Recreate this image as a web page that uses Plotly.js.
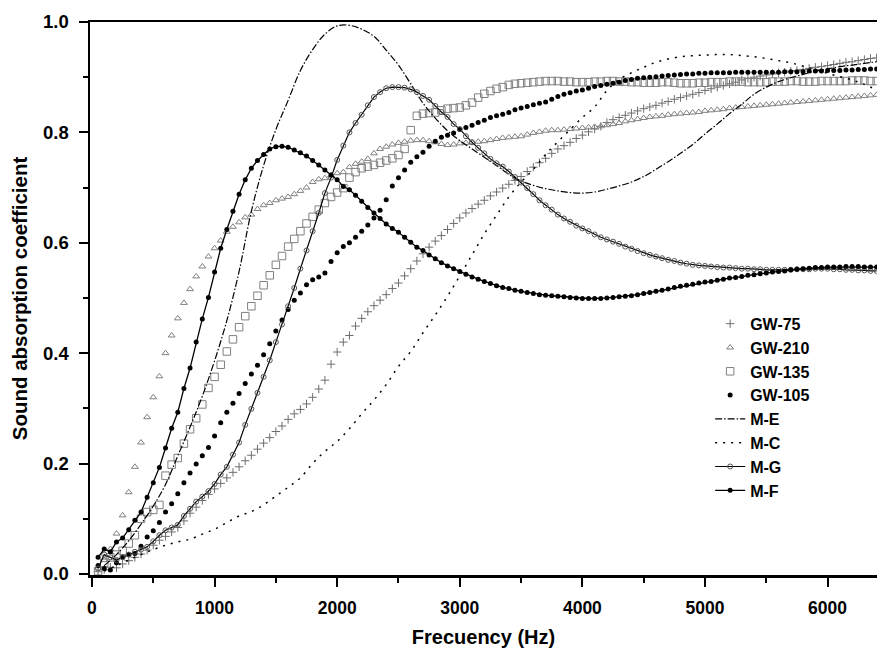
<!DOCTYPE html>
<html>
<head>
<meta charset="utf-8">
<script src="https://cdn.plot.ly/plotly-3.0.1.min.js"></script>
<style>html,body{margin:0;padding:0;background:#fff;}#chart{width:877px;height:656px;}</style>
</head>
<body>
<div id="chart"></div>
<script>
// Frequency grid of the measured / marker series (Hz)
const freq = [
  50,100,150,200,250,300,350,400,450,500,
  550,600,650,700,750,800,850,900,950,1000,
  1050,1100,1150,1200,1250,1300,1350,1400,1450,1500,
  1550,1600,1650,1700,1750,1800,1850,1900,1950,2000,
  2050,2100,2150,2200,2250,2300,2350,2400,2450,2500,
  2550,2600,2650,2700,2750,2800,2850,2900,2950,3000,
  3050,3100,3150,3200,3250,3300,3350,3400,3450,3500,
  3550,3600,3650,3700,3750,3800,3850,3900,3950,4000,
  4050,4100,4150,4200,4250,4300,4350,4400,4450,4500,
  4550,4600,4650,4700,4750,4800,4850,4900,4950,5000,
  5050,5100,5150,5200,5250,5300,5350,5400,5450,5500,
  5550,5600,5650,5700,5750,5800,5850,5900,5950,6000,
  6050,6100,6150,6200,6250,6300,6350,6400
];
// Frequency grid of the pure model lines (Hz)
const freqModel = [
  100,200,300,400,500,600,700,800,900,1000,
  1100,1200,1300,1400,1500,1600,1700,1800,1900,2000,
  2100,2200,2300,2400,2500,2600,2700,2800,2900,3000,
  3100,3200,3300,3400,3500,3600,3700,3800,3900,4000,
  4100,4200,4300,4400,4500,4600,4700,4800,4900,5000,
  5100,5200,5300,5400,5500,5600,5700,5800,5900,6000,
  6100,6200,6300,6400
];

const gw75 = [
  0.004,0.008,0.012,0.011,0.018,0.024,0.030,0.036,0.043,0.052,
  0.061,0.068,0.076,0.084,0.096,0.110,0.121,0.133,0.144,0.154,
  0.164,0.174,0.184,0.194,0.205,0.215,0.226,0.237,0.247,0.258,
  0.268,0.280,0.290,0.298,0.308,0.320,0.335,0.351,0.380,0.402,
  0.420,0.432,0.449,0.463,0.475,0.486,0.496,0.506,0.517,0.527,
  0.540,0.553,0.567,0.580,0.592,0.603,0.613,0.624,0.635,0.645,
  0.654,0.662,0.670,0.677,0.685,0.692,0.699,0.706,0.713,0.720,
  0.729,0.737,0.745,0.753,0.762,0.770,0.776,0.782,0.789,0.795,
  0.801,0.806,0.811,0.818,0.823,0.827,0.831,0.835,0.839,0.843,
  0.846,0.849,0.853,0.856,0.860,0.863,0.866,0.869,0.872,0.876,
  0.879,0.882,0.885,0.888,0.891,0.895,0.898,0.900,0.902,0.904,
  0.906,0.908,0.909,0.911,0.912,0.914,0.916,0.918,0.919,0.921,
  0.923,0.925,0.927,0.928,0.930,0.932,0.934,0.935
];
const gw210 = [
  0.010,0.025,0.045,0.073,0.106,0.148,0.194,0.238,0.284,0.320,
  0.358,0.400,0.432,0.463,0.491,0.516,0.539,0.557,0.575,0.590,
  0.604,0.620,0.629,0.637,0.646,0.651,0.661,0.668,0.672,0.677,
  0.680,0.683,0.688,0.694,0.700,0.710,0.715,0.717,0.722,0.726,
  0.728,0.737,0.743,0.747,0.752,0.762,0.770,0.774,0.778,0.781,
  0.783,0.785,0.786,0.786,0.784,0.782,0.779,0.777,0.778,0.780,
  0.781,0.782,0.783,0.784,0.786,0.788,0.790,0.791,0.792,0.793,
  0.796,0.799,0.801,0.803,0.804,0.804,0.805,0.806,0.807,0.808,
  0.809,0.810,0.811,0.813,0.815,0.817,0.820,0.822,0.824,0.826,
  0.828,0.829,0.830,0.832,0.833,0.834,0.835,0.836,0.837,0.839,
  0.840,0.841,0.842,0.844,0.845,0.846,0.847,0.848,0.849,0.850,
  0.851,0.852,0.853,0.854,0.855,0.856,0.857,0.858,0.859,0.860,
  0.861,0.862,0.863,0.864,0.865,0.866,0.867,0.868
];
const gw135 = [
  0.005,0.020,0.030,0.035,0.042,0.055,0.070,0.100,0.112,0.116,
  0.125,0.178,0.198,0.210,0.236,0.262,0.282,0.307,0.337,0.357,
  0.379,0.403,0.425,0.447,0.467,0.485,0.504,0.523,0.541,0.560,
  0.576,0.593,0.607,0.621,0.635,0.647,0.660,0.672,0.683,0.691,
  0.699,0.718,0.728,0.735,0.738,0.741,0.745,0.749,0.753,0.759,
  0.770,0.804,0.830,0.834,0.835,0.836,0.840,0.843,0.844,0.845,
  0.849,0.854,0.863,0.870,0.875,0.879,0.882,0.886,0.888,0.889,
  0.890,0.891,0.892,0.893,0.893,0.893,0.892,0.892,0.891,0.891,
  0.891,0.892,0.892,0.893,0.893,0.892,0.892,0.891,0.891,0.890,
  0.890,0.890,0.891,0.891,0.890,0.889,0.889,0.889,0.890,0.890,
  0.891,0.891,0.891,0.892,0.892,0.892,0.891,0.891,0.891,0.891,
  0.892,0.892,0.892,0.893,0.893,0.892,0.892,0.892,0.893,0.893,
  0.893,0.893,0.893,0.894,0.894,0.894,0.893,0.893
];
const gw105 = [
  0.015,0.010,0.007,0.020,0.030,0.035,0.037,0.050,0.067,0.078,
  0.093,0.112,0.127,0.145,0.165,0.183,0.199,0.214,0.229,0.250,
  0.274,0.293,0.309,0.327,0.345,0.362,0.378,0.397,0.417,0.440,
  0.460,0.479,0.496,0.509,0.524,0.533,0.538,0.545,0.566,0.582,
  0.593,0.600,0.610,0.621,0.632,0.645,0.659,0.678,0.703,0.718,
  0.732,0.746,0.756,0.764,0.775,0.784,0.791,0.795,0.799,0.805,
  0.809,0.813,0.818,0.822,0.827,0.830,0.833,0.836,0.841,0.844,
  0.847,0.850,0.853,0.855,0.860,0.865,0.869,0.872,0.875,0.877,
  0.880,0.883,0.885,0.887,0.889,0.891,0.894,0.896,0.898,0.899,
  0.900,0.901,0.902,0.903,0.904,0.905,0.906,0.906,0.907,0.907,
  0.908,0.908,0.908,0.908,0.909,0.909,0.909,0.909,0.909,0.909,
  0.909,0.909,0.910,0.910,0.910,0.910,0.911,0.911,0.911,0.912,
  0.912,0.912,0.913,0.913,0.914,0.914,0.915,0.915
];
const mG = [
  0.010,0.035,0.030,0.025,0.030,0.035,0.040,0.044,0.049,0.059,
  0.070,0.079,0.084,0.089,0.105,0.118,0.131,0.140,0.150,0.163,
  0.180,0.194,0.216,0.238,0.270,0.299,0.328,0.357,0.387,0.420,
  0.452,0.485,0.518,0.553,0.586,0.621,0.654,0.690,0.718,0.750,
  0.776,0.800,0.817,0.832,0.849,0.864,0.873,0.880,0.882,0.882,
  0.881,0.878,0.873,0.866,0.859,0.848,0.837,0.828,0.815,0.806,
  0.793,0.782,0.772,0.762,0.752,0.744,0.738,0.729,0.719,0.709,
  0.699,0.688,0.677,0.668,0.660,0.651,0.644,0.638,0.631,0.626,
  0.621,0.615,0.610,0.606,0.602,0.598,0.593,0.589,0.585,0.581,
  0.578,0.575,0.572,0.569,0.567,0.564,0.562,0.560,0.559,0.558,
  0.557,0.556,0.555,0.555,0.554,0.553,0.553,0.552,0.552,0.551,
  0.551,0.551,0.551,0.551,0.552,0.552,0.552,0.553,0.553,0.553,
  0.552,0.552,0.551,0.551,0.550,0.550,0.549,0.549
];
const mF = [
  0.030,0.045,0.040,0.058,0.065,0.080,0.097,0.112,0.139,0.165,
  0.193,0.228,0.264,0.293,0.336,0.373,0.420,0.462,0.501,0.547,
  0.590,0.624,0.657,0.688,0.714,0.735,0.749,0.760,0.770,0.774,
  0.775,0.773,0.768,0.763,0.757,0.749,0.741,0.732,0.723,0.714,
  0.702,0.696,0.686,0.675,0.664,0.654,0.644,0.634,0.626,0.619,
  0.610,0.601,0.592,0.586,0.578,0.571,0.564,0.558,0.553,0.548,
  0.543,0.538,0.534,0.530,0.526,0.522,0.519,0.517,0.514,0.512,
  0.510,0.508,0.506,0.505,0.504,0.503,0.502,0.501,0.500,0.499,
  0.499,0.499,0.499,0.500,0.501,0.502,0.503,0.504,0.506,0.508,
  0.510,0.512,0.514,0.516,0.519,0.521,0.523,0.525,0.527,0.529,
  0.530,0.532,0.534,0.536,0.537,0.539,0.541,0.542,0.544,0.545,
  0.547,0.548,0.549,0.551,0.552,0.553,0.554,0.555,0.555,0.556,
  0.556,0.556,0.557,0.557,0.557,0.556,0.556,0.556
];
const mE = [
  0.015,0.035,0.060,0.090,0.123,0.162,0.214,0.266,0.322,0.386,
  0.459,0.548,0.657,0.740,0.805,0.858,0.912,0.950,0.978,0.993,
  0.994,0.987,0.974,0.949,0.922,0.888,0.853,0.826,0.803,0.785,
  0.770,0.755,0.740,0.724,0.712,0.704,0.698,0.694,0.691,0.690,
  0.692,0.697,0.703,0.710,0.720,0.733,0.747,0.762,0.778,0.797,
  0.815,0.834,0.851,0.869,0.882,0.892,0.899,0.905,0.911,0.915,
  0.919,0.922,0.925,0.928
];
const mC = [
  0.005,0.015,0.025,0.035,0.044,0.052,0.058,0.063,0.072,0.081,
  0.093,0.105,0.113,0.125,0.141,0.157,0.174,0.200,0.222,0.240,
  0.263,0.290,0.315,0.343,0.376,0.403,0.437,0.469,0.503,0.540,
  0.578,0.616,0.650,0.683,0.710,0.733,0.760,0.783,0.805,0.827,
  0.846,0.876,0.896,0.908,0.918,0.927,0.933,0.937,0.939,0.940,
  0.941,0.941,0.939,0.937,0.934,0.930,0.926,0.920,0.914,0.907,
  0.901,0.895,0.887,0.877
];

const seriesNames = ['GW-75','GW-210','GW-135','GW-105','M-E','M-C','M-G','M-F'];
const xTickVals = [0,1000,2000,3000,4000,5000,6000];
const yTickVals = [0.0,0.2,0.4,0.6,0.8,1.0];

const FONT = 'Liberation Sans, Arial, Helvetica, sans-serif';
const GRAY = '#808080';

const traces = [
  {x: freq, y: gw75, name: seriesNames[0], mode: 'markers', type: 'scatter',
   marker: {symbol: 'cross-thin-open', size: 6, color: '#6e6e6e', line: {width: 1, color: '#6e6e6e'}}},
  {x: freq, y: gw210, name: seriesNames[1], mode: 'markers', type: 'scatter',
   marker: {symbol: 'triangle-up-open', size: 6, color: GRAY, line: {width: 1, color: GRAY}}},
  {x: freq, y: gw135, name: seriesNames[2], mode: 'markers', type: 'scatter',
   marker: {symbol: 'square-open', size: 7.5, color: GRAY, line: {width: 1, color: GRAY}}},
  {x: freq, y: gw105, name: seriesNames[3], mode: 'markers', type: 'scatter',
   marker: {symbol: 'circle', size: 5, color: '#000'}},
  {x: freqModel, y: mE, name: seriesNames[4], mode: 'lines', type: 'scatter',
   line: {color: '#000', width: 1.2, dash: '7px,2px,1.5px,2px', shape: 'spline'}},
  {x: freqModel, y: mC, name: seriesNames[5], mode: 'lines', type: 'scatter',
   line: {color: '#000', width: 1.5, dash: '2px,6px', shape: 'spline'}},
  {x: freq, y: mG, name: seriesNames[6], mode: 'lines+markers', type: 'scatter',
   line: {color: '#000', width: 1.2},
   marker: {symbol: 'circle-open', size: 5, color: '#555', line: {width: 1, color: '#555'}}},
  {x: freq, y: mF, name: seriesNames[7], mode: 'lines+markers', type: 'scatter',
   line: {color: '#000', width: 1.3},
   marker: {symbol: 'circle', size: 5, color: '#000'}}
];

const layout = {
  width: 877, height: 656,
  margin: {l: 90, r: 0, t: 22, b: 81},
  paper_bgcolor: '#fff', plot_bgcolor: '#fff',
  showlegend: true,
  font: {family: FONT, color: '#000'},
  xaxis: {
    range: [-16, 6403],
    tickmode: 'array', tickvals: xTickVals,
    ticks: 'outside', ticklen: 9, tickwidth: 2, tickcolor: '#000',
    ticklabelstandoff: 6,
    showline: true, linewidth: 2.5, linecolor: '#000', mirror: true,
    showgrid: false, zeroline: false,
    tickfont: {family: FONT, size: 17.5, weight: 'bold', color: '#000'},
    minor: {tickmode: 'array', tickvals: [500,1500,2500,3500,4500,5500], ticks: 'outside', ticklen: 5, tickwidth: 2, tickcolor: '#000', showgrid: false},
    title: {text: 'Frecuency (Hz)', font: {family: FONT, size: 20, weight: 'bold', color: '#000'}, standoff: 14}
  },
  yaxis: {
    range: [-0.002, 1.0],
    tickmode: 'array', tickvals: yTickVals, tickformat: '.1f',
    ticks: 'outside', ticklen: 9, tickwidth: 2, tickcolor: '#000',
    ticklabelstandoff: 6,
    showline: true, linewidth: 2.5, linecolor: '#000', mirror: false,
    showgrid: false, zeroline: false,
    tickfont: {family: FONT, size: 18.5, weight: 'bold', color: '#000'},
    minor: {tickmode: 'array', tickvals: [0.1,0.3,0.5,0.7,0.9], ticks: 'outside', ticklen: 5, tickwidth: 2, tickcolor: '#000', showgrid: false},
    title: {text: 'Sound absorption coefficient', font: {family: FONT, size: 20.5, weight: 'bold', color: '#000'}, standoff: 10}
  },
  legend: {
    x: 0.788, y: 0.485, xanchor: 'left', yanchor: 'top',
    bgcolor: 'rgba(0,0,0,0)', borderwidth: 0,
    font: {family: FONT, size: 16, weight: 'bold', color: '#000'},
    tracegroupgap: 0, itemwidth: 30
  }
};

Plotly.newPlot('chart', traces, layout, {displayModeBar: false, staticPlot: true});
</script>
</body>
</html>
